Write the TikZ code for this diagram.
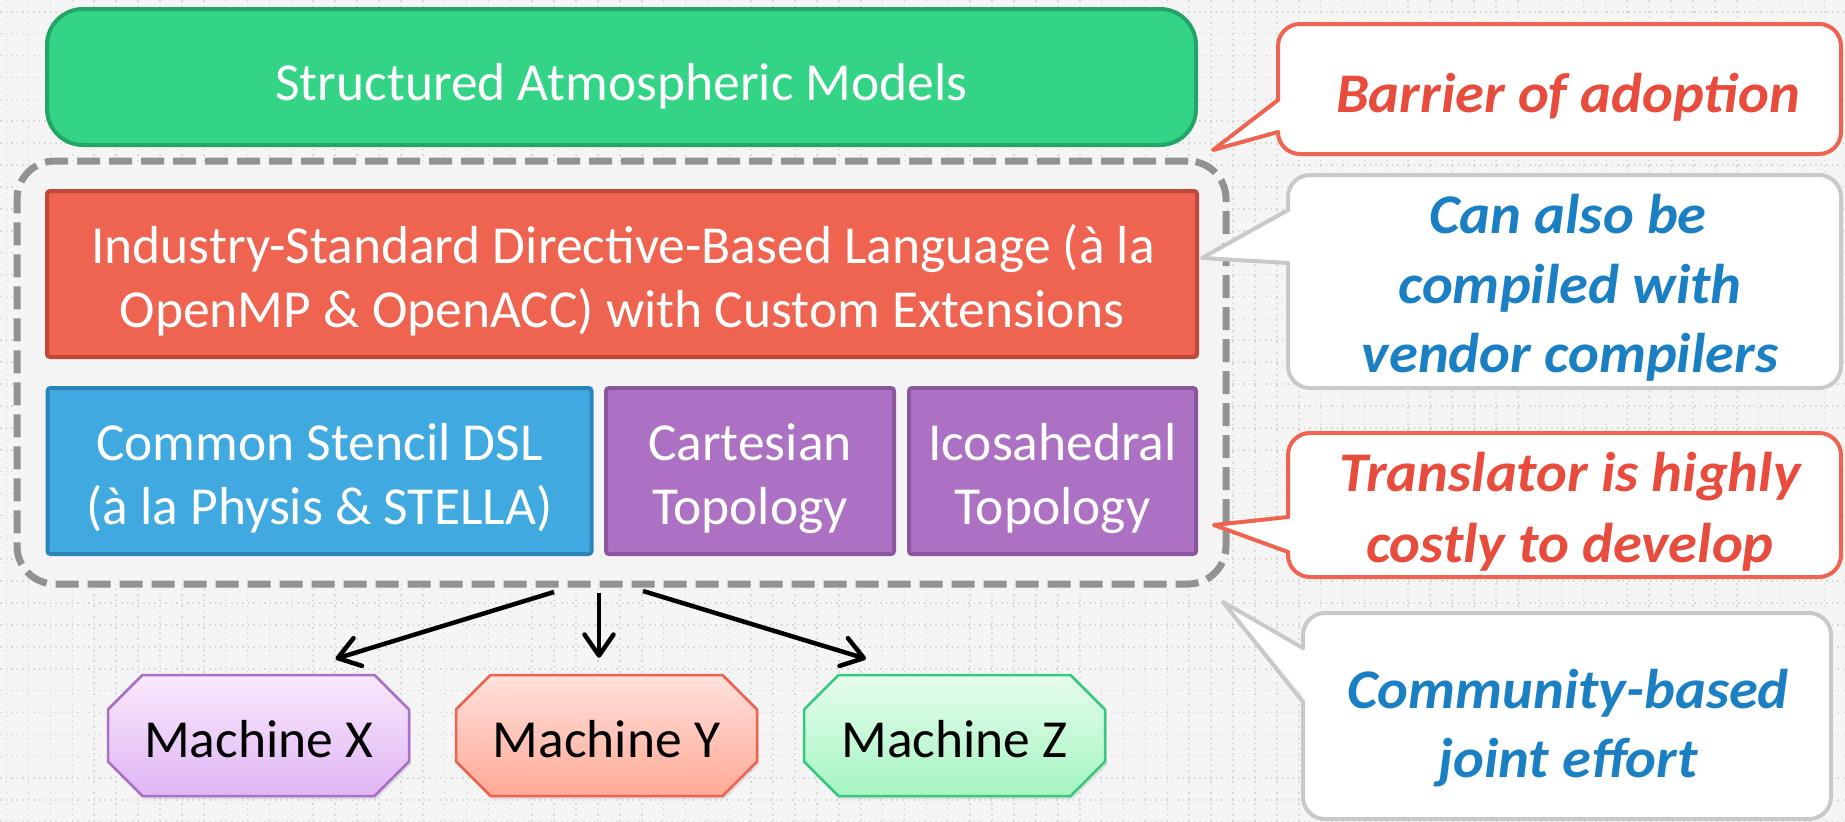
\documentclass[tikz,border=0pt]{standalone}
\usepackage{fontspec}
\setmainfont{Carlito}
\newfontfamily\callfont{Carlito}[FakeStretch=1.045]
\usetikzlibrary{arrows.meta,shadows}

\definecolor{pagebg}{HTML}{F5F5F5}
\definecolor{gridc}{HTML}{D6D6D6}
\definecolor{contfill}{HTML}{F4F4F4}
\definecolor{contline}{HTML}{929292}
\definecolor{greenfill}{HTML}{33D486}
\definecolor{greenline}{HTML}{22A566}
\definecolor{orangefill}{HTML}{EE6450}
\definecolor{orangeline}{HTML}{C0483A}
\definecolor{bluefill}{HTML}{3FA9E0}
\definecolor{blueline}{HTML}{2A85BA}
\definecolor{purplefill}{HTML}{AC71C3}
\definecolor{purpleline}{HTML}{8A569E}
\definecolor{redc}{HTML}{EE6450}
\definecolor{redtext}{HTML}{E84C3D}
\definecolor{greyc}{HTML}{C9C9C9}
\definecolor{bluetext}{HTML}{1B80C3}
\definecolor{mxtop}{HTML}{F9E9FC}
\definecolor{mxbot}{HTML}{E0B5F5}
\definecolor{mxline}{HTML}{AA6FC6}
\definecolor{mytop}{HTML}{FFE1DD}
\definecolor{mybot}{HTML}{FFA995}
\definecolor{myline}{HTML}{EC6450}
\definecolor{mztop}{HTML}{E6FCEC}
\definecolor{mzbot}{HTML}{A5F5C2}
\definecolor{mzline}{HTML}{35C97F}

% octagonal outline of a machine, centred on (#1,#2)
\newcommand\octpath[2]{(#1-116,#2-60.5) -- (#1+116,#2-60.5) -- (#1+150.5,#2-26) -- (#1+150.5,#2+26) -- (#1+116,#2+60.5) -- (#1-116,#2+60.5) -- (#1-150.5,#2+26) -- (#1-150.5,#2-26) -- cycle}

\tikzset{
  gridline/.style={draw=gridc, line width=1.6pt, dash pattern=on 1.6pt off 3.9pt},
  layerbox/.style={line width=4pt, rounded corners=3pt, minimum height=166pt, inner sep=0pt},
  boxtext/.style={text=white, font=\fontsize{53.5}{64}\selectfont, anchor=base, inner sep=0pt},
  calltext/.style={font=\callfont\fontsize{56}{70}\selectfont\bfseries\itshape, anchor=base, inner sep=0pt},
  callline/.style={line width=4pt, line cap=round, line join=round},
  machine/.style={minimum width=301pt, minimum height=121pt, inner sep=0pt,
    text height=43pt, text depth=0pt, font=\fontsize{53.5}{64}\selectfont},
  octa/.style={line width=2.5pt, drop shadow={opacity=0.18, shadow xshift=2pt, shadow yshift=-3pt}},
  arr/.style={line width=4.5pt, -{Straight Barb[length=21pt, width=29pt, line width=4.5pt, round]}},
}

\begin{document}
\begin{tikzpicture}[x=1pt, y=-1pt]
\useasboundingbox (0,0) rectangle (1845,822);
\fill[pagebg] (0,0) rectangle (1845,822);

% dotted background grid
\foreach \i in {0,...,84} \draw[gridline] (6.6+21.9*\i,0) -- (6.6+21.9*\i,822);
\foreach \j in {0,...,37} \draw[gridline] (0,11.7+21.9*\j) -- (1845,11.7+21.9*\j);

% top layer
\node[draw=greenline, fill=greenfill, line width=4pt, rounded corners=36pt,
      minimum width=1149pt, minimum height=136pt, inner sep=0pt,
      text=white, text height=46pt, text depth=0pt, font=\fontsize{53.5}{64}\selectfont]
      (models) at (621.5,77) {Structured Atmospheric Models};

% dashed framework container
\node[draw=contline, fill=contfill, line width=7pt, dash pattern=on 23pt off 9pt,
      rounded corners=38pt, minimum width=1209pt, minimum height=423pt, inner sep=0pt]
      (cont) at (621.5,372.5) {};

% language layer
\node[layerbox, draw=orangeline, fill=orangefill, minimum width=1150pt] (lang) at (622,274) {};
\node[boxtext] (lang1) at (623,263) {Industry-Standard Directive-Based Language (à la};
\node[boxtext] (lang2) at (622,327) {OpenMP \& OpenACC) with Custom Extensions};

% DSL and topology layer
\node[layerbox, draw=blueline, fill=bluefill, minimum width=544pt] (dsl) at (319.5,471) {};
\node[boxtext] (dsl1) at (319.5,460) {Common Stencil DSL};
\node[boxtext] (dsl2) at (319.5,524) {(à la Physis \& STELLA)};

\node[layerbox, draw=purpleline, fill=purplefill, minimum width=288pt] (cart) at (750,471) {};
\node[boxtext] (cart1) at (750,460) {Cartesian};
\node[boxtext] (cart2) at (750,524) {Topology};

\node[layerbox, draw=purpleline, fill=purplefill, minimum width=287pt] (icos) at (1052.5,471) {};
\node[boxtext] (icos1) at (1052.5,460) {Icosahedral};
\node[boxtext] (icos2) at (1052.5,524) {Topology};

% target machines
\draw[octa, draw=mxline, top color=mxtop, bottom color=mxbot] \octpath{258.5}{735.5};
\draw[octa, draw=myline, top color=mytop, bottom color=mybot] \octpath{606.5}{735.5};
\draw[octa, draw=mzline, top color=mztop, bottom color=mzbot] \octpath{954.5}{735.5};
\node[machine] (mx) at (258.5,735.5) {Machine X};
\node[machine] (my) at (606.5,735.5) {Machine Y};
\node[machine] (mz) at (954.5,735.5) {Machine Z};

% code generation arrows
\coordinate (s1) at (554,592);
\coordinate (s2) at (599,593);
\coordinate (s3) at (643,591);
\draw[arr] (s1) -- ([xshift=77pt, yshift=16pt]mx.north);
\draw[arr] (s2) -- ([xshift=-7.5pt, yshift=17pt]my.north);
\draw[arr] (s3) -- ([xshift=-88.5pt, yshift=16pt]mz.north);

% callout: barrier of adoption
\fill[white, rounded corners=22pt] (1278,24) rectangle (1841,154);
\fill[white] (1213,150) -- (1284,100) -- (1284,132) -- cycle;
\draw[callline, draw=redc, rounded corners=22pt] (1278,132) -- (1278,154) -- (1841,154) -- (1841,24) -- (1278,24) -- (1278,100);
\draw[callline, draw=redc] (1278,100) -- (1213,150) -- (1278,132);
\node[calltext, text=redtext] (c1a) at (1568,112) {Barrier of adoption};

% callout: vendor compilers
\fill[white, rounded corners=22pt] (1288,175) rectangle (1841,388);
\fill[white] (1202,258) -- (1294,210) -- (1294,263) -- cycle;
\draw[callline, draw=greyc, rounded corners=22pt] (1288,263) -- (1288,388) -- (1841,388) -- (1841,175) -- (1288,175) -- (1288,210);
\draw[callline, draw=greyc] (1288,210) -- (1202,258) -- (1288,263);
\node[calltext, text=bluetext] (c2a) at (1568,233) {Can also be};
\node[calltext, text=bluetext] (c2b) at (1570,303) {compiled with};
\node[calltext, text=bluetext] (c2c) at (1570,372) {vendor compilers};

% callout: translator cost
\fill[white, rounded corners=22pt] (1288,433) rectangle (1841,577);
\fill[white] (1214,525) -- (1294,517) -- (1294,552) -- cycle;
\draw[callline, draw=redc, rounded corners=22pt] (1288,552) -- (1288,577) -- (1841,577) -- (1841,433) -- (1288,433) -- (1288,517);
\draw[callline, draw=redc] (1288,517) -- (1214,525) -- (1288,552);
\node[calltext, text=redtext] (c3a) at (1570,491) {Translator is highly};
\node[calltext, text=redtext] (c3b) at (1570,562) {costly to develop};

% callout: community effort
\fill[white, rounded corners=22pt] (1303,613) rectangle (1831,819);
\fill[white] (1223,602) -- (1309,648) -- (1309,702) -- cycle;
\draw[callline, draw=greyc, rounded corners=22pt] (1303,702) -- (1303,819) -- (1831,819) -- (1831,613) -- (1303,613) -- (1303,648);
\draw[callline, draw=greyc] (1303,648) -- (1223,602) -- (1303,702);
\node[calltext, text=bluetext] (c4a) at (1568,708) {Community-based};
\node[calltext, text=bluetext] (c4b) at (1568,777) {joint effort};
\end{tikzpicture}
\end{document}
